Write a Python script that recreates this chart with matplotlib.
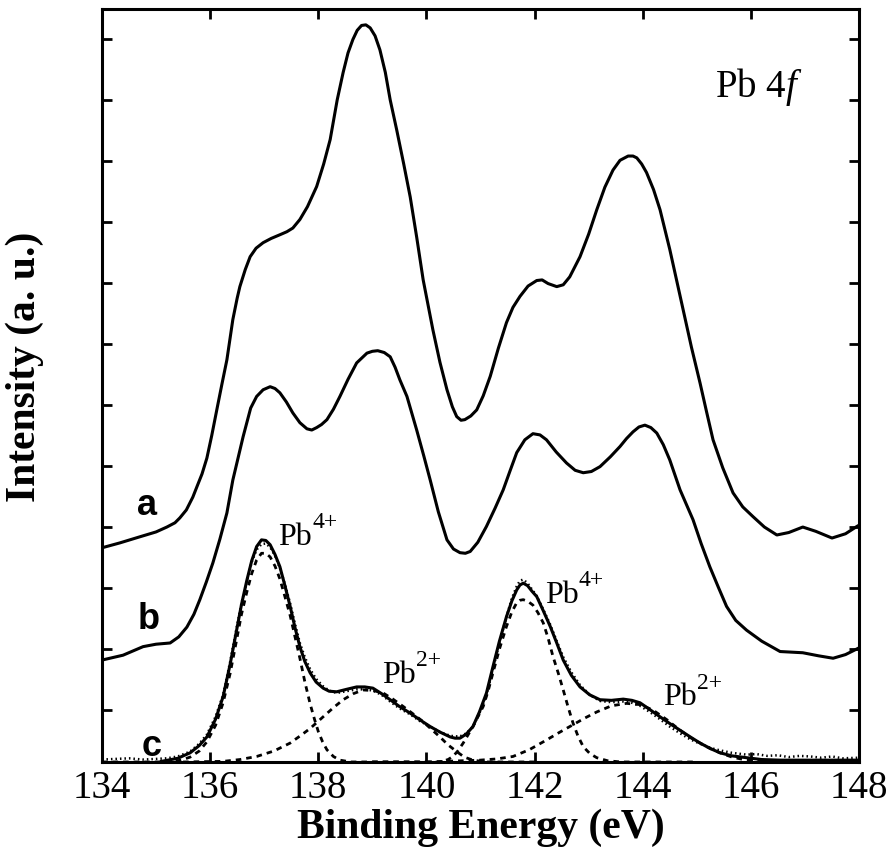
import numpy as np
import matplotlib
matplotlib.use("Agg")
import matplotlib.pyplot as plt
from matplotlib.transforms import offset_copy

plt.rcParams['mathtext.fontset'] = 'custom'
plt.rcParams['mathtext.rm'] = 'Liberation Serif'
plt.rcParams['mathtext.it'] = 'Liberation Serif:italic'
plt.rcParams['mathtext.bf'] = 'Liberation Serif:bold'

# --- curve a (upper spectrum) ---
a_x = [134.00, 134.33, 134.70, 135.00, 135.20, 135.35, 135.44, 135.56, 135.68, 135.76,
       135.85, 135.94, 136.03, 136.13, 136.22, 136.31, 136.42, 136.50, 136.55, 136.65,
       136.74, 136.85, 136.98, 137.13, 137.29, 137.42, 137.53, 137.66, 137.80, 137.97,
       138.10, 138.22, 138.35, 138.46, 138.55, 138.64, 138.72, 138.80, 138.88, 138.96,
       139.05, 139.14, 139.24, 139.33, 139.45, 139.58, 139.70, 139.82, 139.94, 140.12,
       140.25, 140.38, 140.48, 140.56, 140.64, 140.71, 140.82, 140.93, 141.05, 141.18,
       141.33, 141.48, 141.60, 141.73, 141.88, 142.04, 142.14, 142.25, 142.41, 142.53,
       142.65, 142.84, 143.00, 143.15, 143.30, 143.45, 143.58, 143.73, 143.82, 143.89,
       143.98, 144.07, 144.20, 144.32, 144.50, 144.62, 144.75, 144.90, 145.06, 145.18,
       145.30, 145.48, 145.67, 145.85, 146.04, 146.25, 146.48, 146.70, 146.96, 147.20,
       147.50, 147.75, 147.96, 148.00]
a_y = [3.51, 3.59, 3.69, 3.77, 3.85, 3.92, 4.00, 4.13, 4.34, 4.52,
       4.72, 4.98, 5.35, 5.80, 6.20, 6.59, 7.25, 7.60, 7.79, 8.07,
       8.28, 8.42, 8.51, 8.58, 8.64, 8.69, 8.75, 8.89, 9.10, 9.43,
       9.80, 10.20, 10.85, 11.30, 11.62, 11.84, 11.99, 12.07, 12.08, 12.03,
       11.90, 11.67, 11.30, 10.85, 10.36, 9.80, 9.26, 8.60, 7.90, 7.08,
       6.55, 6.10, 5.82, 5.66, 5.60, 5.61, 5.67, 5.77, 6.00, 6.32,
       6.78, 7.20, 7.45, 7.63, 7.80, 7.89, 7.90, 7.84, 7.79, 7.82,
       7.95, 8.28, 8.65, 9.05, 9.42, 9.70, 9.86, 9.93, 9.93, 9.90,
       9.80, 9.66, 9.38, 9.05, 8.40, 7.92, 7.40, 6.80, 6.21, 5.74,
       5.28, 4.82, 4.41, 4.18, 4.02, 3.85, 3.72, 3.76, 3.85, 3.78,
       3.67, 3.74, 3.86, 3.88]

# --- curve b (middle spectrum) ---
b_x = [134.00, 134.39, 134.76, 135.00, 135.26, 135.42, 135.57, 135.70, 135.81, 135.93,
       136.05, 136.18, 136.31, 136.42, 136.61, 136.75, 136.86, 136.98, 137.11, 137.20,
       137.29, 137.41, 137.53, 137.66, 137.79, 137.88, 137.97, 138.06, 138.16, 138.28,
       138.40, 138.55, 138.71, 138.90, 139.00, 139.10, 139.22, 139.33, 139.42, 139.51,
       139.64, 139.82, 139.95, 140.07, 140.22, 140.38, 140.50, 140.62, 140.72, 140.81,
       140.95, 141.11, 141.27, 141.42, 141.55, 141.67, 141.82, 141.97, 142.10, 142.22,
       142.40, 142.59, 142.75, 142.90, 143.05, 143.21, 143.40, 143.58, 143.70, 143.82,
       143.93, 144.04, 144.15, 144.26, 144.38, 144.50, 144.69, 144.93, 145.08, 145.24,
       145.40, 145.55, 145.72, 145.92, 146.20, 146.54, 146.96, 147.25, 147.52, 147.75,
       148.00]
b_y = [1.67, 1.75, 1.89, 1.93, 1.95, 2.05, 2.21, 2.42, 2.66, 2.95,
       3.26, 3.65, 4.08, 4.62, 5.33, 5.80, 5.99, 6.10, 6.15, 6.12,
       6.05, 5.90, 5.72, 5.56, 5.46, 5.44, 5.48, 5.53, 5.61, 5.78,
       5.99, 6.27, 6.54, 6.70, 6.73, 6.74, 6.71, 6.64, 6.47, 6.26,
       5.99, 5.44, 5.02, 4.62, 4.10, 3.64, 3.49, 3.43, 3.42, 3.45,
       3.60, 3.86, 4.16, 4.46, 4.78, 5.07, 5.28, 5.38, 5.36, 5.28,
       5.08, 4.90, 4.78, 4.74, 4.76, 4.84, 5.00, 5.17, 5.30, 5.41,
       5.49, 5.52, 5.48, 5.39, 5.20, 4.95, 4.46, 3.97, 3.58, 3.20,
       2.86, 2.55, 2.32, 2.16, 1.98, 1.81, 1.79, 1.74, 1.70, 1.76,
       1.87]

# --- curve c (fit envelope, solid) ---
c_x = [135.10, 135.40, 135.63, 135.80, 135.94, 136.10, 136.24, 136.37, 136.49, 136.58,
       136.68, 136.77, 136.86, 136.95, 137.03, 137.11, 137.20, 137.29, 137.38, 137.48,
       137.57, 137.66, 137.75, 137.85, 137.96, 138.09, 138.20, 138.34, 138.52, 138.71,
       138.86, 139.01, 139.17, 139.33, 139.50, 139.70, 139.88, 140.07, 140.25, 140.44,
       140.53, 140.62, 140.74, 140.86, 140.98, 141.11, 141.23, 141.35, 141.48, 141.58,
       141.67, 141.73, 141.79, 141.87, 141.95, 142.04, 142.16, 142.29, 142.41, 142.53,
       142.68, 142.84, 143.02, 143.21, 143.42, 143.64, 143.80, 143.95, 144.13, 144.32,
       144.50, 144.69, 144.88, 145.06, 145.25, 145.43, 145.65, 145.92, 146.20, 146.54,
       148.00]
c_y = [0.01, 0.06, 0.15, 0.27, 0.41, 0.70, 1.07, 1.60, 2.16, 2.58,
       2.98, 3.30, 3.53, 3.64, 3.63, 3.56, 3.40, 3.20, 2.90, 2.55,
       2.20, 1.89, 1.65, 1.46, 1.31, 1.21, 1.16, 1.15, 1.19, 1.23,
       1.23, 1.21, 1.12, 1.02, 0.91, 0.80, 0.69, 0.58, 0.49, 0.41,
       0.39, 0.39, 0.46, 0.58, 0.82, 1.13, 1.56, 1.98, 2.38, 2.64,
       2.82, 2.90, 2.93, 2.89, 2.80, 2.71, 2.48, 2.22, 1.95, 1.67,
       1.42, 1.23, 1.10, 1.02, 1.01, 1.03, 1.01, 0.97, 0.86, 0.74,
       0.63, 0.52, 0.41, 0.31, 0.22, 0.15, 0.10, 0.07, 0.04, 0.03,
       0.03]

# --- measured data of c (dotted) ---
d_x = [134.00, 134.25, 134.50, 134.75, 135.00, 135.20, 135.40, 135.63, 135.80, 135.94,
       136.10, 136.24, 136.37, 136.49, 136.58, 136.68, 136.77, 136.86, 136.95, 137.03,
       137.11, 137.20, 137.29, 137.38, 137.48, 137.57, 137.66, 137.75, 137.85, 137.96,
       138.09, 138.20, 138.34, 138.52, 138.71, 138.86, 139.01, 139.17, 139.33, 139.50,
       139.70, 139.88, 140.07, 140.25, 140.44, 140.53, 140.62, 140.74, 140.86, 140.98,
       141.11, 141.23, 141.35, 141.48, 141.58, 141.67, 141.73, 141.79, 141.87, 141.95,
       142.04, 142.16, 142.29, 142.41, 142.53, 142.68, 142.84, 143.02, 143.21, 143.42,
       143.64, 143.80, 143.95, 144.13, 144.32, 144.50, 144.69, 144.88, 145.06, 145.25,
       145.43, 145.65, 145.92, 146.10, 146.30, 146.50, 146.70, 146.90, 147.10, 147.30,
       147.50, 147.70, 148.00]
d_y = [0.04, 0.05, 0.06, 0.04, 0.05, 0.06, 0.09, 0.17, 0.30, 0.45,
       0.74, 1.10, 1.64, 2.20, 2.60, 2.97, 3.28, 3.48, 3.57, 3.58,
       3.52, 3.38, 3.18, 2.92, 2.60, 2.26, 1.95, 1.72, 1.52, 1.36,
       1.24, 1.17, 1.13, 1.16, 1.19, 1.19, 1.17, 1.10, 0.99, 0.88,
       0.78, 0.67, 0.58, 0.49, 0.43, 0.42, 0.42, 0.47, 0.58, 0.80,
       1.10, 1.52, 1.96, 2.38, 2.68, 2.88, 2.97, 2.99, 2.93, 2.83,
       2.72, 2.50, 2.25, 1.98, 1.72, 1.47, 1.26, 1.10, 1.00, 0.98,
       0.99, 0.97, 0.92, 0.82, 0.70, 0.58, 0.47, 0.37, 0.30, 0.23,
       0.19, 0.15, 0.12, 0.13, 0.10, 0.11, 0.08, 0.10, 0.09, 0.07,
       0.09, 0.06, 0.07]

# --- fitted components (dashed) ---
p1_x = [134.00, 135.30, 135.50, 135.63, 135.80, 135.94, 136.10, 136.24, 136.37, 136.49,
        136.58, 136.68, 136.77, 136.86, 136.95, 137.03, 137.11, 137.20, 137.29, 137.38,
        137.48, 137.57, 137.66, 137.75, 137.85, 137.93, 138.00, 138.08, 138.16, 138.28,
        138.40, 138.60, 140.00]
p1_y = [0.00, 0.00, 0.04, 0.08, 0.18, 0.33, 0.60, 0.97, 1.45, 2.00,
        2.42, 2.79, 3.09, 3.31, 3.42, 3.42, 3.36, 3.21, 3.00, 2.72,
        2.40, 2.05, 1.70, 1.32, 0.95, 0.70, 0.50, 0.33, 0.20, 0.09,
        0.03, 0.00, 0.00]

p2_x = [135.50, 136.24, 136.55, 136.86, 137.18, 137.48, 137.70, 137.85, 138.09, 138.28,
        138.46, 138.65, 138.83, 139.02, 139.20, 139.38, 139.57, 139.75, 139.94, 140.10,
        140.25, 140.40, 140.56, 140.70, 140.86, 141.10, 142.00]
p2_y = [0.00, 0.01, 0.04, 0.09, 0.18, 0.31, 0.45, 0.55, 0.74, 0.89,
        1.02, 1.12, 1.18, 1.17, 1.13, 1.03, 0.91, 0.79, 0.66, 0.53,
        0.41, 0.28, 0.17, 0.08, 0.03, 0.00, 0.00]

p3_x = [139.00, 140.25, 140.40, 140.49, 140.58, 140.68, 140.86, 141.05, 141.14, 141.23,
        141.35, 141.48, 141.58, 141.67, 141.73, 141.79, 141.88, 141.97, 142.06, 142.16,
        142.25, 142.34, 142.44, 142.53, 142.62, 142.71, 142.80, 142.90, 143.02, 143.15,
        143.35, 143.60, 145.00]
p3_y = [0.00, 0.00, 0.04, 0.09, 0.18, 0.31, 0.58, 0.91, 1.16, 1.46,
        1.85, 2.22, 2.46, 2.61, 2.65, 2.66, 2.63, 2.57, 2.45, 2.28,
        2.03, 1.73, 1.45, 1.18, 0.90, 0.64, 0.43, 0.25, 0.14, 0.07,
        0.02, 0.00, 0.00]

p4_x = [140.00, 140.99, 141.30, 141.60, 141.90, 142.22, 142.45, 142.71, 142.93, 143.15,
        143.42, 143.70, 143.95, 144.19, 144.45, 144.69, 144.88, 145.06, 145.25, 145.43,
        145.65, 145.92, 146.30, 147.00]
p4_y = [0.00, 0.03, 0.05, 0.09, 0.20, 0.36, 0.48, 0.61, 0.72, 0.82,
        0.92, 0.96, 0.94, 0.85, 0.69, 0.52, 0.40, 0.31, 0.22, 0.15,
        0.08, 0.03, 0.01, 0.00]

# peak labels: (x, y, charge)
peak_labels = [(137.26, 3.56, '4+'), (139.18, 1.30, '2+'),
               (142.19, 2.61, '4+'), (144.38, 0.93, '2+')]

x_ticks = [134, 136, 138, 140, 142, 144, 146, 148]

serif = ['Liberation Serif', 'DejaVu Serif']
sans = ['Liberation Sans', 'DejaVu Sans']

fig = plt.figure(figsize=(8.89, 8.55), dpi=100)
ax = fig.add_axes([0.1147, 0.1088, 0.8516, 0.8807])

lw = 2.2
ax.plot(a_x, a_y, color='black', lw=lw, solid_joinstyle='round')
ax.plot(b_x, b_y, color='black', lw=lw, solid_joinstyle='round')
ax.plot(c_x, c_y, color='black', lw=lw, solid_joinstyle='round')
ax.plot(d_x, d_y, color='black', lw=1.8, ls=(0, (0.6, 1.2)))
for px, py in [(p1_x, p1_y), (p2_x, p2_y), (p3_x, p3_y), (p4_x, p4_y)]:
    ax.plot(px, py, color='black', lw=2.0, ls=(0, (2.0, 1.8)))

ax.set_xlim(134, 148)
ax.set_ylim(0, 12.34)
ax.set_xticks(x_ticks)
ax.set_yticks(np.arange(0.85, 12.3, 1.0))
ax.set_yticklabels([])
ax.tick_params(direction='in', length=7, width=2, top=True, right=True, pad=6)
for lab in ax.get_xticklabels():
    lab.set_family(serif)
    lab.set_fontsize(28)
for sp in ax.spines.values():
    sp.set_linewidth(2.2)

ax.set_xlabel('Binding Energy (eV)', family=serif, fontsize=30, fontweight='bold')
ax.xaxis.set_label_coords(0.5, -0.062)
ax.set_ylabel('Intensity (a. u.)', family=serif, fontsize=30, fontweight='bold')
ax.yaxis.set_label_coords(-0.077, 0.525)

ax.text(134.83, 4.21, 'a', family=sans, fontsize=26, fontweight='bold', ha='center', va='center')
ax.text(134.87, 2.33, 'b', family=sans, fontsize=26, fontweight='bold', ha='center', va='center')
ax.text(134.92, 0.25, 'c', family=sans, fontsize=26, fontweight='bold', ha='center', va='center')

# "Pb" plus a larger superscript than mathtext gives
for lx, ly, q in peak_labels:
    ax.text(lx, ly, 'Pb', family=serif, fontsize=23, ha='left', va='baseline')
    sup_tr = offset_copy(ax.transData, fig=fig, x=24.5, y=12, units='points')
    ax.text(lx, ly, q, family=serif, fontsize=17, ha='left', va='baseline', transform=sup_tr)

ax.text(145.34, 10.90, r'Pb 4$\mathit{f}$', family=serif, fontsize=28, ha='left', va='baseline')

fig.savefig('out.png', dpi=100)
